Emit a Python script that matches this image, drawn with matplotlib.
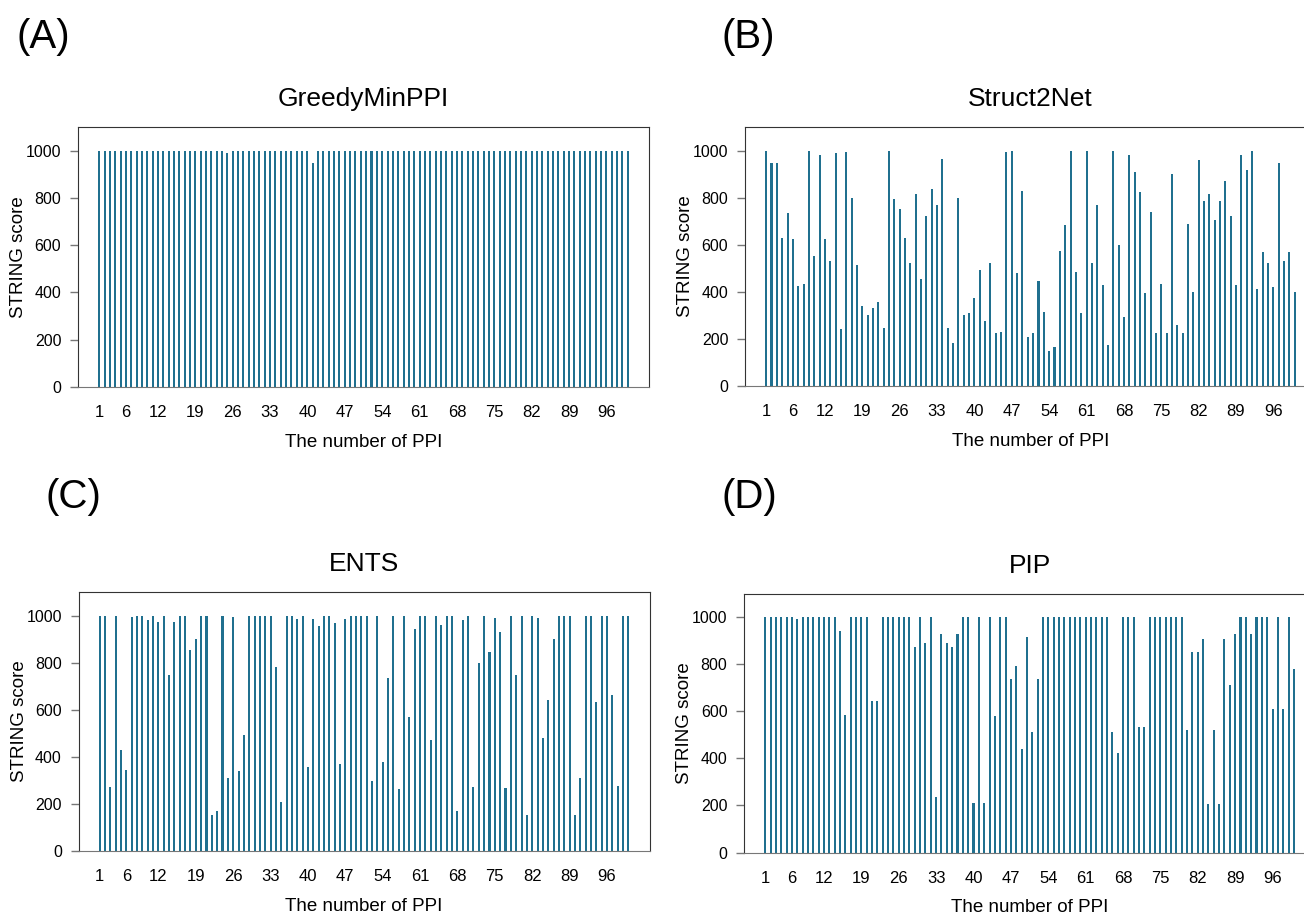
import matplotlib
matplotlib.use("Agg")
import matplotlib.pyplot as plt

plt.rcParams["font.family"] = ["Liberation Sans", "DejaVu Sans"]

BAR_COLOR = "#20708f"

# PPI index on the x axis and the subset of labels R managed to print
ppi_ids = list(range(1, 101))
tick_ids = [1, 6, 12, 19, 26, 33, 40, 47, 54, 61, 68, 75, 82, 89, 96]
y_ticks = [0, 200, 400, 600, 800, 1000]

# STRING scores (one value per PPI)
greedy_scores = [
    1000, 1000, 1000, 1000, 1000, 1000, 1000, 1000, 1000, 1000,
    1000, 1000, 1000, 1000, 1000, 1000, 1000, 1000, 1000, 1000,
    1000, 1000, 1000, 1000, 988, 1000, 1000, 1000, 1000, 1000,
    1000, 1000, 1000, 1000, 1000, 1000, 1000, 1000, 1000, 1000,
    948, 1000, 1000, 1000, 1000, 1000, 1000, 1000, 1000, 1000,
    1000, 1000, 1000, 1000, 1000, 1000, 1000, 1000, 1000, 1000,
    1000, 1000, 1000, 1000, 1000, 1000, 1000, 1000, 1000, 1000,
    1000, 1000, 1000, 1000, 1000, 1000, 1000, 1000, 1000, 1000,
    1000, 1000, 1000, 1000, 1000, 1000, 1000, 1000, 1000, 1000,
    1000, 1000, 1000, 1000, 1000, 1000, 1000, 1000, 1000, 1000,
]

struct2net_scores = [
    1000, 946, 946, 628, 733, 624, 424, 433, 996, 550,
    983, 623, 529, 989, 241, 994, 800, 513, 338, 302,
    330, 355, 245, 999, 793, 753, 630, 522, 816, 455,
    723, 837, 769, 963, 245, 184, 800, 302, 311, 372,
    491, 274, 522, 226, 230, 994, 1000, 481, 827, 206,
    224, 444, 313, 150, 166, 574, 684, 1000, 484, 308,
    1000, 522, 769, 427, 174, 1000, 600, 292, 979, 909,
    826, 394, 739, 226, 433, 226, 902, 260, 226, 688,
    399, 960, 784, 814, 706, 786, 870, 722, 427, 980,
    916, 1000, 413, 570, 522, 420, 945, 530, 570, 400,
]

ents_scores = [
    1000, 1000, 270, 1000, 430, 346, 993, 1000, 1000, 983,
    1000, 973, 1000, 746, 973, 1000, 1000, 852, 899, 1000,
    1000, 153, 169, 1000, 308, 993, 338, 494, 1000, 1000,
    1000, 1000, 1000, 782, 210, 1000, 1000, 987, 1000, 356,
    986, 956, 1000, 1000, 970, 369, 984, 1000, 1000, 1000,
    1000, 298, 1000, 376, 735, 1000, 262, 1000, 570, 942,
    1000, 1000, 470, 1000, 960, 1000, 1000, 170, 983, 1000,
    270, 799, 1000, 844, 991, 929, 268, 1000, 749, 1000,
    153, 1000, 989, 478, 643, 901, 1000, 1000, 1000, 153,
    311, 1000, 1000, 631, 996, 1000, 662, 274, 1000, 1000,
]

pip_scores = [
    1000, 1000, 1000, 1000, 1000, 1000, 993, 1000, 1000, 1000,
    1000, 1000, 1000, 1000, 939, 584, 1000, 1000, 1000, 1000,
    643, 643, 1000, 1000, 1000, 1000, 1000, 1000, 875, 1000,
    891, 1000, 235, 929, 891, 874, 929, 1000, 1000, 209,
    1000, 209, 1000, 582, 1000, 1000, 738, 791, 440, 915,
    513, 738, 1000, 1000, 1000, 1000, 1000, 1000, 1000, 1000,
    1000, 1000, 1000, 1000, 1000, 513, 421, 1000, 1000, 1000,
    535, 535, 1000, 1000, 1000, 1000, 1000, 1000, 1000, 521,
    852, 852, 906, 206, 521, 206, 906, 712, 929, 1000,
    1000, 929, 1000, 1000, 1000, 611, 1000, 611, 1000, 779,
]

# (panel letter, title, scores, axes rect, letter position)
panels = [
    ("(A)", "GreedyMinPPI", greedy_scores, [0.0598, 0.5780, 0.4379, 0.2835], (0.013, 0.960)),
    ("(B)", "Struct2Net", struct2net_scores, [0.5713, 0.5791, 0.4379, 0.2824], (0.553, 0.960)),
    ("(C)", "ENTS", ents_scores, [0.0602, 0.0720, 0.4379, 0.2824], (0.035, 0.458)),
    ("(D)", "PIP", pip_scores, [0.5706, 0.0703, 0.4379, 0.2824], (0.553, 0.458)),
]

fig = plt.figure(figsize=(13.04, 9.17), dpi=100)

for letter, title, scores, rect, (lx, ly) in panels:
    ax = fig.add_axes(rect)
    ax.bar(ppi_ids, scores, width=0.38, color=BAR_COLOR, linewidth=0)
    ax.set_xlim(-2.97, 103.97)
    ax.set_ylim(0, 1100)

    ax.set_xticks(tick_ids)
    ax.set_xticklabels([str(t) for t in tick_ids])
    ax.set_yticks(y_ticks)
    ax.tick_params(axis="x", length=0, pad=13, labelsize=12)
    ax.tick_params(axis="y", length=6, width=1, color="#777777", pad=6, labelsize=11.5)

    for side in ("top", "left", "right"):
        ax.spines[side].set_color("#333333")
    ax.spines["bottom"].set_color("#777777")

    ax.set_title(title, fontsize=19, pad=15)
    ax.set_xlabel("The number of PPI", fontsize=13.5)
    ax.xaxis.set_label_coords(0.5, -0.18)
    ax.set_ylabel("STRING score", fontsize=13.5, va="center")
    ax.yaxis.set_label_coords(-0.104, 0.5)

    fig.text(lx, ly, letter, fontsize=29, ha="left", va="center")

fig.savefig("out.png", dpi=100)
